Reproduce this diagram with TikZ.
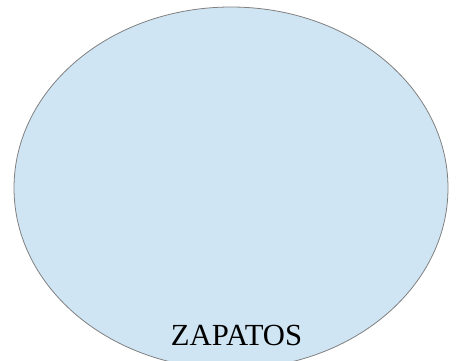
\documentclass[tikz,border=0pt]{standalone}
\usepackage{fontspec}
\setmainfont{Liberation Serif}
\definecolor{fillblue}{HTML}{CFE5F3}
\definecolor{edgegray}{HTML}{808080}
\begin{document}
\begin{tikzpicture}[x=0.75pt,y=-0.75pt,
  blob/.style={draw=edgegray,fill=fillblue,line width=0.6pt},
  lbl/.style={anchor=base,inner sep=0pt,font=\fontsize{23}{27}\selectfont}]
\useasboundingbox (0,0) rectangle (458,361);
\begin{scope}
\clip (0,0) rectangle (458,361);
\path[blob] (231,188) ellipse [x radius=217, y radius=181];
\end{scope}
\node[lbl] (t) at (236.5,345) {ZAPATOS};
\end{tikzpicture}
\end{document}
